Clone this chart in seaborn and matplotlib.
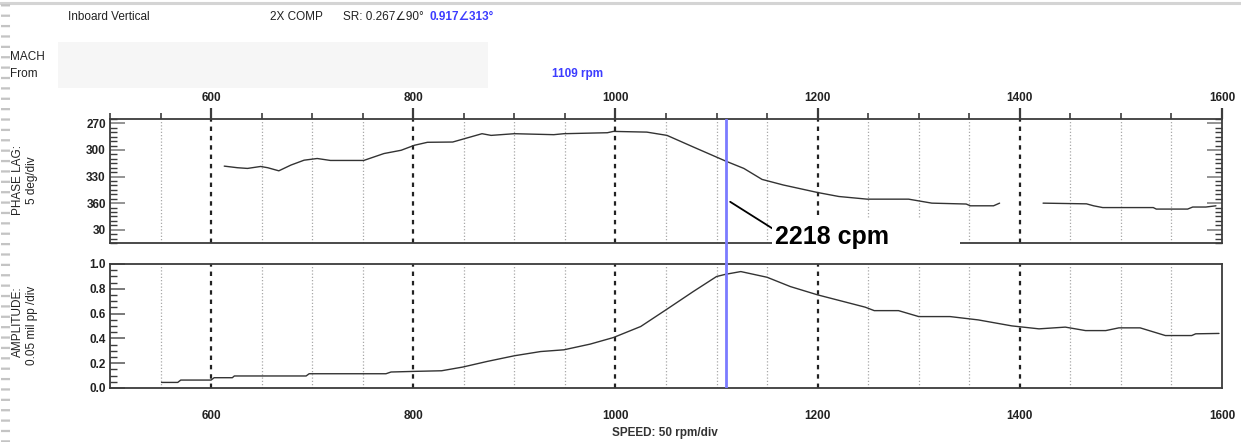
import numpy as np
import pandas as pd
import matplotlib
matplotlib.use("Agg")
import matplotlib.pyplot as plt
import matplotlib.transforms as mtransforms
from matplotlib.lines import Line2D
from matplotlib.patches import Rectangle
from matplotlib.ticker import MultipleLocator, FixedLocator
import seaborn as sns

# ---------------- data ----------------
phase_rpm_a = [613, 626, 636, 649, 656, 667, 679, 692, 705, 718, 751, 771, 788, 801, 814,
               839, 868, 877, 900, 939, 949, 992, 998, 1031, 1051, 1077, 1109, 1127, 1145,
               1166, 1200, 1221, 1249, 1290, 1313, 1347, 1351, 1374, 1380]
phase_deg_a = [318.2, 320, 320.8, 318.6, 320, 323.5, 317, 311.5, 309.6, 311.8, 311.8, 304,
               300.3, 294.7, 291.3, 291, 281.6, 283.5, 281.6, 282.7, 281.6, 280.5, 279,
               279.8, 283.5, 296.6, 312.5, 320.8, 333.2, 339.5, 348, 352.5, 355.5, 355.5,
               360, 361, 363, 363, 360]
phase_rpm_b = [1423, 1466, 1473, 1482, 1532, 1535, 1566, 1571, 1584, 1594]
phase_deg_b = [360, 360.8, 363, 365, 365, 366.7, 366.7, 364.4, 364.4, 363]

amp_rpm = [551, 567, 570, 600, 603, 621, 623, 694, 697, 773, 778, 801, 828, 849, 873, 900,
           926, 949, 975, 998, 1025, 1051, 1077, 1100, 1109, 1124, 1150, 1173, 1200, 1247,
           1256, 1280, 1300, 1331, 1359, 1392, 1419, 1445, 1465, 1485, 1498, 1519, 1544,
           1570, 1574, 1597]
amp_mil = [0.045, 0.045, 0.064, 0.064, 0.083, 0.083, 0.097, 0.097, 0.115, 0.115, 0.129,
           0.134, 0.139, 0.169, 0.214, 0.26, 0.294, 0.308, 0.354, 0.407, 0.496, 0.636,
           0.778, 0.899, 0.917, 0.939, 0.893, 0.818, 0.751, 0.652, 0.624, 0.624, 0.576,
           0.576, 0.549, 0.501, 0.477, 0.491, 0.463, 0.463, 0.485, 0.485, 0.423, 0.423,
           0.437, 0.44]

x_ticks = [600, 800, 1000, 1200, 1400, 1600]
phase_ticks = [270, 300, 330, 360, 390]
phase_tick_labels = ["270", "300", "330", "360", "30"]
amp_ticks = [0.0, 0.2, 0.4, 0.6, 0.8, 1.0]
amp_tick_labels = ["0.0", "0.2", "0.4", "0.6", "0.8", "1.0"]
cursor_rpm = 1109

# ---------------- style ----------------
sns.set_style("white")
plt.rcParams["font.family"] = ["Liberation Sans", "DejaVu Sans"]

W, H = 1241, 442
fig = plt.figure(figsize=(W / 100, H / 100), dpi=100)
fig.patch.set_facecolor("white")

def fx(px):
    return px / W

def fy(py):
    return 1 - py / H

ax1 = fig.add_axes([fx(110), fy(243), fx(1222) - fx(110), fy(119) - fy(243)])
ax2 = fig.add_axes([fx(110), fy(388), fx(1222) - fx(110), fy(264) - fy(388)])

df_phase = pd.DataFrame({
    "rpm": phase_rpm_a + phase_rpm_b,
    "phase": phase_deg_a + phase_deg_b,
    "seg": ["a"] * len(phase_rpm_a) + ["b"] * len(phase_rpm_b),
})
df_amp = pd.DataFrame({"rpm": amp_rpm, "amp": amp_mil})

sns.lineplot(data=df_phase, x="rpm", y="phase", units="seg", estimator=None,
             color="#333333", linewidth=1.0, ax=ax1, zorder=5)
sns.lineplot(data=df_amp, x="rpm", y="amp", color="#333333", linewidth=1.0,
             ax=ax2, zorder=5)

spine_col = "#3c3c3c"
for ax in (ax1, ax2):
    ax.set_xlim(500, 1600)
    ax.set_xlabel("")
    ax.set_ylabel("")
    for s in ax.spines.values():
        s.set_visible(True)
        s.set_color(spine_col)
        s.set_linewidth(1.3)
    # vertical grid lines
    for v in range(550, 1600, 50):
        if v % 200 == 0:
            ax.axvline(v, color="#222222", lw=1.6, ls=(0, (2.0, 2.2)), zorder=1)
        else:
            ax.axvline(v, color="#a8a8a8", lw=0.9, ls=(0, (1.0, 1.6)), zorder=1)
    ax.xaxis.set_major_locator(FixedLocator(x_ticks))
    ax.xaxis.set_minor_locator(MultipleLocator(50))

# top panel
ax1.set_ylim(405, 265)
ax1.yaxis.set_major_locator(FixedLocator(phase_ticks))
ax1.set_yticklabels(phase_tick_labels)
ax1.yaxis.set_minor_locator(MultipleLocator(5))
ax1.xaxis.tick_top()
ax1.tick_params(axis="x", which="major", direction="out", length=8, width=1.6,
                color=spine_col, pad=2.5, labelsize=8.5, top=True, bottom=False,
                labeltop=True, labelbottom=False)
ax1.tick_params(axis="x", which="minor", direction="out", length=4.5, width=1.2,
                color=spine_col, top=True, bottom=False)
ax1.tick_params(axis="y", which="major", direction="in", length=11, width=1.1,
                color="#777777", pad=3, labelsize=8.5, left=True, right=True)
ax1.tick_params(axis="y", which="minor", direction="in", length=5, width=1.0,
                color=spine_col, left=True, right=True)

# bottom panel
ax2.set_ylim(0, 1.0)
ax2.yaxis.set_major_locator(FixedLocator(amp_ticks))
ax2.set_yticklabels(amp_tick_labels)
ax2.yaxis.set_minor_locator(MultipleLocator(0.05))
ax2.tick_params(axis="x", which="major", direction="out", length=12, width=1.6,
                color=spine_col, pad=3.5, labelsize=8.5)
ax2.tick_params(axis="x", which="minor", direction="out", length=6, width=1.2,
                color=spine_col)
ax2.tick_params(axis="y", which="major", direction="in", length=11, width=1.1,
                color="#555555", pad=3, labelsize=8.5, left=True, right=False)
ax2.tick_params(axis="y", which="minor", direction="in", length=5, width=1.0,
                color=spine_col, left=True, right=False)

for ax in (ax1, ax2):
    for lab in ax.get_xticklabels() + ax.get_yticklabels():
        lab.set_fontweight("bold")
        lab.set_color("#222222")

# cursor line at 1109 rpm
blue = "#7b7bff"
ax1.axvline(cursor_rpm, color=blue, lw=2.0, zorder=6)
ax2.axvline(cursor_rpm, color=blue, lw=2.0, zorder=6)
trans = mtransforms.blended_transform_factory(ax1.transData, fig.transFigure)
fig.add_artist(Line2D([cursor_rpm, cursor_rpm], [fy(243), fy(264)], transform=trans,
                      color=blue, lw=2.0))

# white cover box behind annotation text
fig.add_artist(Rectangle((fx(772), fy(250)), fx(960) - fx(772), fy(218) - fy(250),
                         transform=fig.transFigure, facecolor="white",
                         edgecolor="none", zorder=2))
# leader line and label
ax1.plot([1113.5, 1160], [358.5, 392], color="black", lw=1.3, zorder=7, clip_on=False)
fig.text(fx(775), fy(237), "2218 cpm", fontsize=18, fontweight="bold",
         ha="left", va="center", color="black", zorder=3)

# axis titles (rotated)
fig.text(fx(18), fy(180), "PHASE LAG:", rotation=90, ha="center", va="center",
         fontsize=8.5, color="#222222")
fig.text(fx(32), fy(180), "5 deg/div", rotation=90, ha="center", va="center",
         fontsize=8.5, color="#222222")
fig.text(fx(18), fy(322), "AMPLITUDE:", rotation=90, ha="center", va="center",
         fontsize=8.5, color="#222222")
fig.text(fx(32), fy(325), "0.05 mil pp /div", rotation=90, ha="center", va="center",
         fontsize=8.5, color="#222222")
fig.text(fx(665), fy(433), "SPEED: 50 rpm/div", ha="center", va="center",
         fontsize=8.5, fontweight="bold", color="#333333")

# header
fig.text(fx(68), fy(17), "Inboard Vertical", ha="left", va="center", fontsize=8.5,
         color="#222222")
fig.text(fx(270), fy(17), "2X COMP", ha="left", va="center", fontsize=8.5,
         color="#222222")
fig.text(fx(343), fy(17), "SR: 0.267\u222090\u00b0", ha="left", va="center",
         fontsize=8.5, color="#222222")
fig.text(fx(430), fy(17), "0.917\u2220313\u00b0", ha="left", va="center",
         fontsize=8.5, color="#3c3cff", fontweight="bold")
fig.text(fx(10), fy(57), "MACH", ha="left", va="center", fontsize=8.5, color="#222222")
fig.text(fx(10), fy(74), "From", ha="left", va="center", fontsize=8.5, color="#222222")
fig.text(fx(578), fy(74), "1109 rpm", ha="center", va="center", fontsize=8.5,
         color="#3c3cff", fontweight="bold")
fig.add_artist(Rectangle((fx(58), fy(88)), fx(488) - fx(58), fy(42) - fy(88),
                         transform=fig.transFigure, facecolor="#f6f6f6",
                         edgecolor="none", zorder=4))

# window decorations
fig.add_artist(Line2D([0, 1], [fy(2.5), fy(2.5)], transform=fig.transFigure,
                      color="#d4d4d4", lw=2.2))
fig.add_artist(Line2D([fx(4.5), fx(4.5)], [0, 1], transform=fig.transFigure,
                      color="#c4c4c4", lw=6.5, ls=(0, (0.25, 0.9)), solid_capstyle="butt",
                      dash_capstyle="butt"))

fig.savefig("out.png", dpi=100, facecolor="white")
